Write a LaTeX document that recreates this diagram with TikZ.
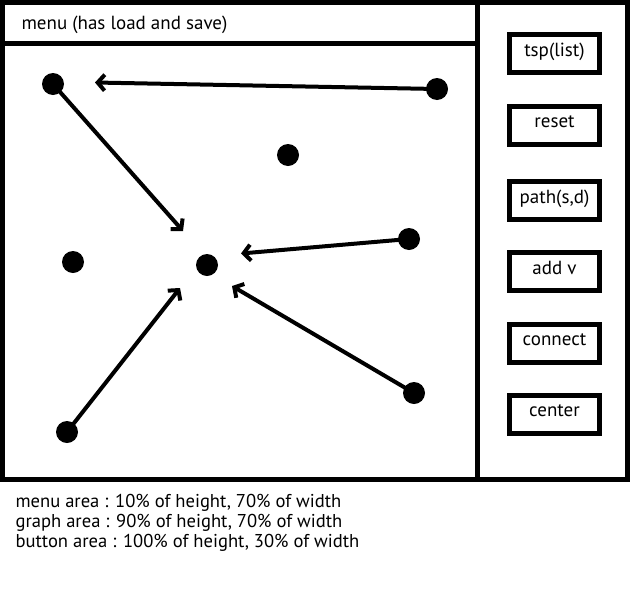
\documentclass[tikz,border=0pt]{standalone}
\usepackage{fontspec}
\setsansfont{PT Sans}
\usetikzlibrary{arrows.meta, positioning}

\begin{document}
\begin{tikzpicture}[
  x=1pt, y=-1pt,
  frame/.style={draw, line width=5pt},
  btn/.style={
    draw, line width=5pt, minimum width=90pt, minimum height=38pt,
    font=\sffamily\fontsize{19}{22}\selectfont, inner sep=0pt, text depth=7pt
  },
  vert/.style={circle, fill, inner sep=0pt, minimum size=22pt},
  edge/.style={-{Straight Barb[length=7pt, width=16pt]}, line width=4pt},
  annot/.style={font=\sffamily\fontsize{18.6}{20}\selectfont, align=left}
]
\useasboundingbox (0,0) rectangle (637,600);

% ============ WINDOW ============
\draw[frame] (2.5,2.5) rectangle (627.5,479.5);
\coordinate (split top) at (477,2.5);
\coordinate (split bot) at (477,479.5);
\draw[frame] (split top) -- (split bot);
\coordinate (menu left) at (2.5,43.5);
\coordinate (menu right) at (477,43.5);
\draw[line width=5pt] (menu left) -- (menu right);
\node[font=\sffamily\fontsize{19}{22}\selectfont, anchor=base west] (menu)
  at (18,29) {menu (has load and save)};

% ============ BUTTONS ============
\node[btn] (tsp) at (554.5,53.5) {tsp(list)};
\node[btn, below=28.5pt of tsp] (reset) {reset};
\node[btn, below=32pt of reset] (path) {path(s,d)};
\node[btn, below=28.5pt of path] (addv) {add v};
\node[btn, below=29pt of addv] (connect) {connect};
\node[btn, below=28pt of connect] (center) {center};

% ============ GRAPH ============
\node[vert] (v1) at (53,84) {};
\node[vert] (v2) at (437,89) {};
\node[vert] (v3) at (288,155) {};
\node[vert] (v4) at (73,262) {};
\node[vert] (v5) at (207,265) {};
\node[vert] (v6) at (409,239) {};
\node[vert] (v7) at (67,432) {};
\node[vert] (v8) at (414,393) {};

% arrow tips stop short of the target
\coordinate (e1) at (95,82.5);
\coordinate (e2) at (183,231);
\coordinate (e3) at (241,253.5);
\coordinate (e4) at (180,288);
\coordinate (e5) at (232,286);

\draw[edge] (v2.center) -- (e1);
\draw[edge] (v1.center) -- (e2);
\draw[edge] (v6.center) -- (e3);
\draw[edge] (v7.center) -- (e4);
\draw[edge] (v8.center) -- (e5);

% ============ NOTES ============
% base anchor sits on the last line
\node[annot, anchor=base west] (notes) at (12,547)
  {menu area : 10\% of height, 70\% of width\\
   graph area : 90\% of height, 70\% of width\\
   button area : 100\% of height, 30\% of width};

\end{tikzpicture}
\end{document}
